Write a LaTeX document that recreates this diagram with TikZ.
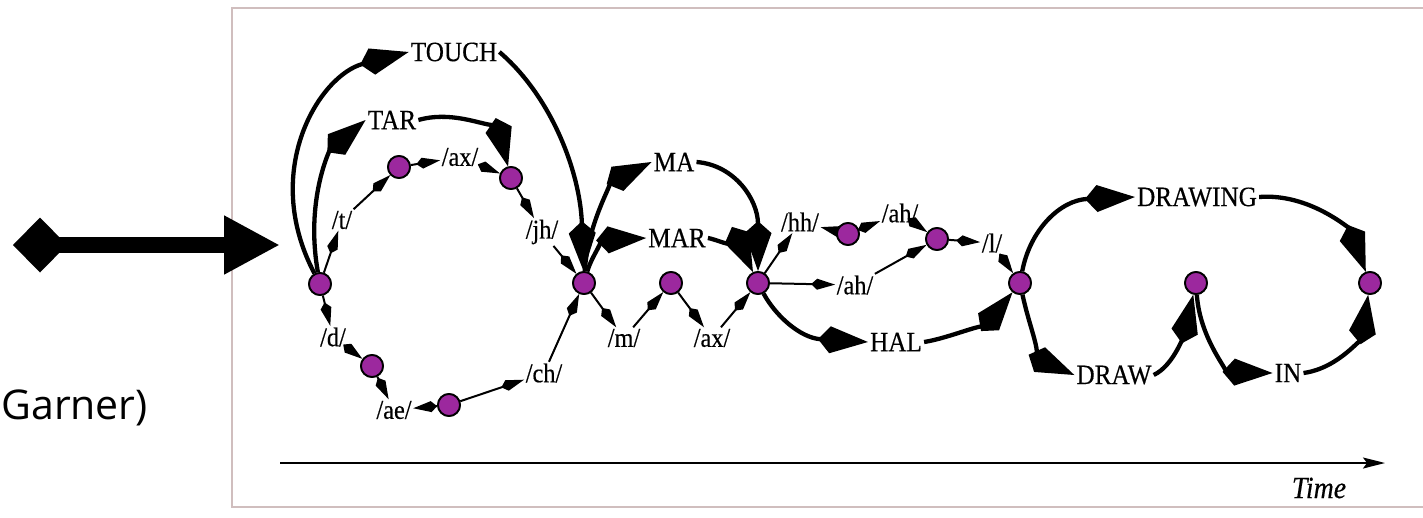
\documentclass[tikz,border=0pt]{standalone}
\usepackage{fontspec}
\setmainfont{Liberation Serif}
\newfontfamily\diagfont[FakeStretch=0.9,FakeBold=0.4]{Liberation Serif}
\newfontfamily\garnerfont{Open Sans}
\usetikzlibrary{arrows.meta}
\definecolor{nodepurple}{RGB}{156,40,158}
\definecolor{framecol}{RGB}{208,190,190}
\tikzset{
  state/.style={circle, fill=nodepurple, draw=black, line width=1.8pt, minimum size=22pt, inner sep=0pt},
  phon/.style={font=\diagfont\fontsize{27}{27}\selectfont, inner sep=1.5pt},
  word/.style={font=\diagfont\fontsize{28}{28}\selectfont, inner sep=2pt},
  wordarc/.style={line width=4.3pt, -{Kite[length=50pt,width=27pt,inset=12pt]}},
  phonarc/.style={line width=2pt, -{Kite[length=24pt,width=11pt,inset=6pt]}},
}
\begin{document}
\begin{tikzpicture}[x=1pt,y=-1pt]
\useasboundingbox (0,0) rectangle (1423,517);
\clip (0,0) rectangle (1423,517);
% frame
\draw[framecol, line width=2pt] (1440,8) -- (232,8) -- (232,507) -- (1440,507);
% input arrow
\coordinate (inS) at (13,245);
\coordinate (inE) at (280,245);
\draw[line width=16pt, {Diamond[length=54pt,width=55pt]}-{Triangle[length=56pt,width=55pt]}] (inS) -- (inE);
\node[font=\garnerfont\fontsize{41}{41}\selectfont, anchor=east, inner sep=0pt] (garner) at (148,408) {Garner)};
% time axis
\coordinate (t0) at (280,463);
\coordinate (t1) at (1385,463);
\draw[line width=1.8pt, -{Stealth[length=22pt,width=11pt,inset=4pt]}] (t0) -- (t1);
\node[font=\diagfont\itshape\fontsize{31}{31}\selectfont] (time) at (1319,488) {Time};
% states
\node[state] (n1) at (320,284) {};
\node[state] (n2) at (399,167) {};
\node[state] (n3) at (511,178) {};
\node[state] (n4) at (372,366) {};
\node[state] (n5) at (449,405) {};
\node[state] (n6) at (584,283) {};
\node[state] (n7) at (671,283) {};
\node[state] (n8) at (758,283) {};
\node[state] (n9) at (848,234) {};
\node[state] (n10) at (937,239) {};
\node[state] (n11) at (1020,283) {};
\node[state] (n12) at (1196,283) {};
\node[state] (n13) at (1370,283) {};
% phoneme labels
\node[phon] (t) at (342,220) {/t/};
\node[phon] (ax1) at (460,157) {/ax/};
\node[phon] (jh) at (542,232) {/jh/};
\node[phon] (d) at (333,337) {/d/};
\node[phon] (ae) at (394,410) {/ae/};
\node[phon] (ch) at (544,373) {/ch/};
\node[phon] (m) at (624,338) {/m/};
\node[phon] (ax2) at (712,338) {/ax/};
\node[phon] (hh) at (800,222) {/hh/};
\node[phon] (ah1) at (900,213) {/ah/};
\node[phon] (ah2) at (855,285) {/ah/};
\node[phon] (l) at (992,243) {/l/};
% word labels
\node[word] (touch) at (454,52) {TOUCH};
\node[word] (tar) at (392,120) {TAR};
\node[word] (ma) at (674,162) {MA};
\node[word] (mar) at (677,238) {MAR};
\node[word] (hal) at (896,342) {HAL};
\node[word] (drawing) at (1197,197) {DRAWING};
\node[word] (draw) at (1114,375) {DRAW};
\node[word] (in) at (1288,373) {IN};
% word arcs
\draw[wordarc] (n1) .. controls (260,170) and (320,75) .. (touch.west);
\draw[wordarc] (touch.east) .. controls (550,95) and (580,170) .. (n6);
\draw[wordarc] (n1) .. controls (305,200) and (330,150) .. (tar.west);
\draw[wordarc] (tar.east) .. controls (460,108) and (500,135) .. (n3);
\draw[wordarc] (n6) .. controls (588,220) and (615,180) .. (ma.west);
\draw[wordarc] (ma.east) .. controls (735,165) and (758,200) .. (n8);
\draw[wordarc] (n6) .. controls (592,255) and (605,240) .. (mar.west);
\draw[wordarc] (mar.east) .. controls (720,240) and (745,255) .. (n8);
\draw[wordarc] (n8) .. controls (775,315) and (800,338) .. (hal.west);
\draw[wordarc] (hal.east) .. controls (950,338) and (990,320) .. (n11);
\draw[wordarc] (n11) .. controls (1030,230) and (1060,200) .. (drawing.west);
\draw[wordarc] (drawing.east) .. controls (1310,193) and (1350,230) .. (n13);
\draw[wordarc] (n11) .. controls (1030,330) and (1045,362) .. (draw.west);
\draw[wordarc] (draw.east) .. controls (1175,365) and (1185,330) .. (n12);
\draw[wordarc] (n12) .. controls (1200,340) and (1230,372) .. (in.west);
\draw[wordarc] (in.east) .. controls (1340,368) and (1362,335) .. (n13);
% phoneme arcs
\draw[phonarc] (n1) -- (t);
\draw[phonarc] (t) -- (n2);
\draw[phonarc] (n2) -- (ax1);
\draw[phonarc] (ax1) -- (n3);
\draw[phonarc] (n3) -- (jh);
\draw[phonarc] (jh) -- (n6);
\draw[phonarc] (n1) -- (d);
\draw[phonarc] (d) -- (n4);
\draw[phonarc] (n4) -- (ae);
\draw[phonarc] (n5) -- (ae);
\draw[phonarc] (n5) -- (ch);
\draw[phonarc] (ch) -- (n6);
\draw[phonarc] (n6) -- (m);
\draw[phonarc] (m) -- (n7);
\draw[phonarc] (n7) -- (ax2);
\draw[phonarc] (ax2) -- (n8);
\draw[phonarc] (n8) -- (hh);
\draw[phonarc] (n9) -- (hh);
\draw[phonarc] (n9) -- (ah1);
\draw[phonarc] (ah1) -- (n10);
\draw[phonarc] (n10) -- (l);
\draw[phonarc] (l) -- (n11);
\draw[phonarc] (n8) -- (ah2);
\draw[phonarc] (ah2) -- (n10);
% redraw states on top
\foreach \s in {n1,n2,n3,n4,n5,n6,n7,n8,n9,n10,n11,n12,n13}
  \path (\s) node[state] {};
\end{tikzpicture}
\end{document}
